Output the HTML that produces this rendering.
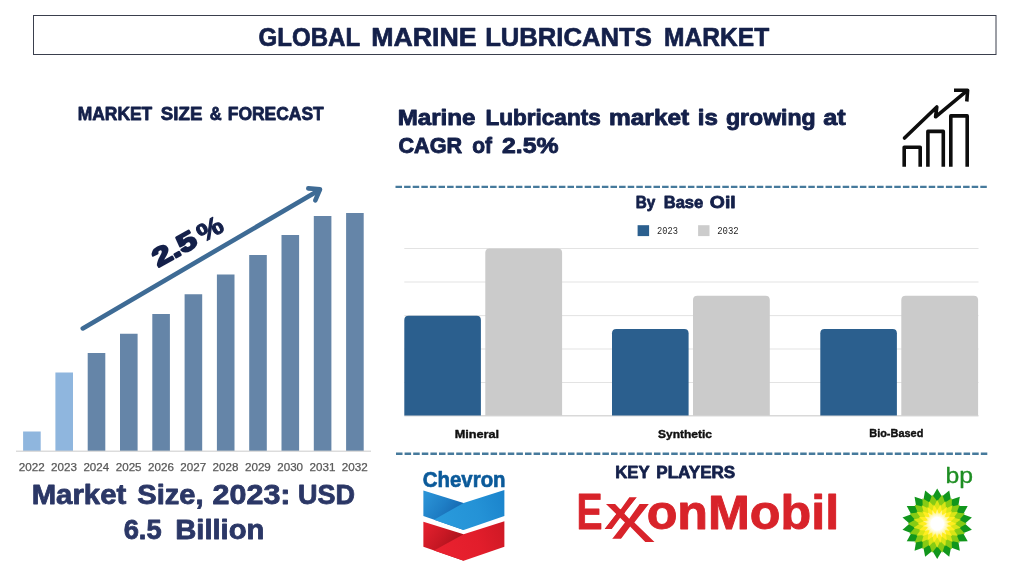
<!DOCTYPE html><html lang="en"><head><meta charset="utf-8"><title>Global Marine Lubricants Market</title>
<style>html,body{margin:0;padding:0;background:#fff}svg{display:block}text{font-family:"Liberation Sans",Arial,sans-serif}.b{font-weight:700}.m{font-family:"Liberation Mono","DejaVu Sans Mono",monospace}</style></head><body>
<svg width="1024" height="576" viewBox="0 0 1024 576">
<rect width="1024" height="576" fill="#ffffff"/>
<rect x="33.5" y="15.5" width="962.5" height="39" fill="#fff" stroke="#3a3f4d" stroke-width="1"/>
<text class="b" y="45.8" font-size="26.1" fill="#14204a" stroke="#14204a" stroke-width="0.7" stroke-linejoin="round"><tspan x="258.57" textLength="101.22" lengthAdjust="spacingAndGlyphs">GLOBAL</tspan> <tspan x="371.16" textLength="105.53" lengthAdjust="spacingAndGlyphs">MARINE</tspan> <tspan x="485.13" textLength="166.72" lengthAdjust="spacingAndGlyphs">LUBRICANTS</tspan> <tspan x="664.11" textLength="105.11" lengthAdjust="spacingAndGlyphs">MARKET</tspan></text>
<text class="b" y="120" font-size="18.8" fill="#14204a" stroke="#14204a" stroke-width="0.8" stroke-linejoin="round"><tspan x="77.73" textLength="74.55" lengthAdjust="spacingAndGlyphs">MARKET</tspan> <tspan x="160.86" textLength="41.47" lengthAdjust="spacingAndGlyphs">SIZE</tspan> <tspan x="209.67" textLength="11.94" lengthAdjust="spacingAndGlyphs">&amp;</tspan> <tspan x="227.73" textLength="96.06" lengthAdjust="spacingAndGlyphs">FORECAST</tspan></text>
<rect x="23.10" y="431.5" width="17.6" height="19.5" fill="#8fb6de"/>
<rect x="55.40" y="372.5" width="17.6" height="78.5" fill="#8fb6de"/>
<rect x="87.70" y="353" width="17.6" height="98" fill="#6585a8"/>
<rect x="120.00" y="333.75" width="17.6" height="117.25" fill="#6585a8"/>
<rect x="152.30" y="314" width="17.6" height="137" fill="#6585a8"/>
<rect x="184.60" y="294.25" width="17.6" height="156.75" fill="#6585a8"/>
<rect x="216.90" y="274.5" width="17.6" height="176.5" fill="#6585a8"/>
<rect x="249.20" y="255" width="17.6" height="196" fill="#6585a8"/>
<rect x="281.50" y="235" width="17.6" height="216" fill="#6585a8"/>
<rect x="313.80" y="216" width="17.6" height="235" fill="#6585a8"/>
<rect x="346.10" y="213" width="17.6" height="238" fill="#6585a8"/>
<rect x="16" y="450.6" width="355" height="1.2" fill="#d4d4d4"/>
<text x="18.84" y="471.3" font-size="10.9" fill="#595959" stroke="#595959" stroke-width="0.25" stroke-linejoin="round" textLength="25.92" lengthAdjust="spacingAndGlyphs">2022</text>
<text x="51.14" y="471.3" font-size="10.9" fill="#595959" stroke="#595959" stroke-width="0.25" stroke-linejoin="round" textLength="25.84" lengthAdjust="spacingAndGlyphs">2023</text>
<text x="83.44" y="471.3" font-size="10.9" fill="#595959" stroke="#595959" stroke-width="0.25" stroke-linejoin="round" textLength="25.67" lengthAdjust="spacingAndGlyphs">2024</text>
<text x="115.74" y="471.3" font-size="10.9" fill="#595959" stroke="#595959" stroke-width="0.25" stroke-linejoin="round" textLength="25.82" lengthAdjust="spacingAndGlyphs">2025</text>
<text x="148.04" y="471.3" font-size="10.9" fill="#595959" stroke="#595959" stroke-width="0.25" stroke-linejoin="round" textLength="25.84" lengthAdjust="spacingAndGlyphs">2026</text>
<text x="180.34" y="471.3" font-size="10.9" fill="#595959" stroke="#595959" stroke-width="0.25" stroke-linejoin="round" textLength="25.92" lengthAdjust="spacingAndGlyphs">2027</text>
<text x="212.64" y="471.3" font-size="10.9" fill="#595959" stroke="#595959" stroke-width="0.25" stroke-linejoin="round" textLength="25.84" lengthAdjust="spacingAndGlyphs">2028</text>
<text x="244.94" y="471.3" font-size="10.9" fill="#595959" stroke="#595959" stroke-width="0.25" stroke-linejoin="round" textLength="25.89" lengthAdjust="spacingAndGlyphs">2029</text>
<text x="277.24" y="471.3" font-size="10.9" fill="#595959" stroke="#595959" stroke-width="0.25" stroke-linejoin="round" textLength="25.79" lengthAdjust="spacingAndGlyphs">2030</text>
<text x="309.54" y="471.3" font-size="10.9" fill="#595959" stroke="#595959" stroke-width="0.25" stroke-linejoin="round" textLength="25.90" lengthAdjust="spacingAndGlyphs">2031</text>
<text x="341.84" y="471.3" font-size="10.9" fill="#595959" stroke="#595959" stroke-width="0.25" stroke-linejoin="round" textLength="25.92" lengthAdjust="spacingAndGlyphs">2032</text>
<g fill="none" stroke="#3e6b95" stroke-width="4.6" stroke-linecap="round" stroke-linejoin="round">
<path d="M82.8 328.4 L319 190.2"/>
<path d="M308.3 188.4 L320 189.3 L315.3 200.4"/>
</g>
<g transform="translate(158.5,267.4) rotate(-29)"><text class="b" x="-0.16" y="0" font-size="25.6" fill="#14204a" stroke="#14204a" stroke-width="2.0" stroke-linejoin="round" textLength="46.39" lengthAdjust="spacingAndGlyphs">2.5</text><text class="b" x="50.57" y="0" font-size="25.6" fill="#14204a" stroke="#14204a" stroke-width="1.0" stroke-linejoin="round" textLength="26.21" lengthAdjust="spacingAndGlyphs">%</text></g>
<text class="b" y="504" font-size="26.8" fill="#2b3766" stroke="#2b3766" stroke-width="0.8" stroke-linejoin="round"><tspan x="31.69" textLength="94.52" lengthAdjust="spacingAndGlyphs">Market</tspan> <tspan x="137.26" textLength="66.28" lengthAdjust="spacingAndGlyphs">Size,</tspan> <tspan x="212.64" textLength="77.88" lengthAdjust="spacingAndGlyphs">2023:</tspan> <tspan x="298.03" textLength="56.95" lengthAdjust="spacingAndGlyphs">USD</tspan></text>
<text class="b" y="539.2" font-size="26.8" fill="#2b3766" stroke="#2b3766" stroke-width="0.8" stroke-linejoin="round"><tspan x="123.65" textLength="37.96" lengthAdjust="spacingAndGlyphs">6.5</tspan> <tspan x="175.20" textLength="89.21" lengthAdjust="spacingAndGlyphs">Billion</tspan></text>
<text class="b" y="125" font-size="21.8" fill="#14204a" stroke="#14204a" stroke-width="0.9" stroke-linejoin="round"><tspan x="397.74" textLength="77.74" lengthAdjust="spacingAndGlyphs">Marine</tspan> <tspan x="485.54" textLength="115.13" lengthAdjust="spacingAndGlyphs">Lubricants</tspan> <tspan x="609.04" textLength="80.21" lengthAdjust="spacingAndGlyphs">market</tspan> <tspan x="697.77" textLength="20.07" lengthAdjust="spacingAndGlyphs">is</tspan> <tspan x="726.00" textLength="89.69" lengthAdjust="spacingAndGlyphs">growing</tspan> <tspan x="823.21" textLength="22.45" lengthAdjust="spacingAndGlyphs">at</tspan></text>
<text class="b" y="153.2" font-size="21.8" fill="#14204a" stroke="#14204a" stroke-width="0.9" stroke-linejoin="round"><tspan x="398.46" textLength="63.73" lengthAdjust="spacingAndGlyphs">CAGR</tspan> <tspan x="472.13" textLength="19.78" lengthAdjust="spacingAndGlyphs">of</tspan> <tspan x="502.09" textLength="56.41" lengthAdjust="spacingAndGlyphs">2.5%</tspan></text>
<g fill="none" stroke="#0d0d0d" stroke-width="3.6" stroke-linejoin="round">
<path d="M904.2 166.8 V147.2 H920.2 V166.8"/>
<path d="M927.9 166.8 V131.4 H943.3 V166.8"/>
<path d="M950.8 166.8 V115.9 H967.2 V166.8"/>
<path d="M904.5 138 L936.8 107 L935.6 116.8 L966.5 91.2" stroke-linecap="round"/>
<path d="M954 90.2 H967.6 L966.8 101.5" stroke-linecap="butt"/>
</g>
<path d="M395.5 186.9 H988" stroke="#467a9c" stroke-width="2.4" stroke-dasharray="6.5 2.1" fill="none"/>
<path d="M396 453.8 H988" stroke="#467a9c" stroke-width="2.4" stroke-dasharray="6.5 2.1" fill="none"/>
<text class="b" y="207.8" font-size="17.2" fill="#14204a" stroke="#14204a" stroke-width="0.8" stroke-linejoin="round"><tspan x="635.63" textLength="19.56" lengthAdjust="spacingAndGlyphs">By</tspan> <tspan x="663.69" textLength="39.57" lengthAdjust="spacingAndGlyphs">Base</tspan> <tspan x="709.80" textLength="25.87" lengthAdjust="spacingAndGlyphs">Oil</tspan></text>
<rect x="637.6" y="225.2" width="11.5" height="10.9" fill="#2b5f8e"/>
<text class="m" x="657" y="234.3" font-size="10.2" fill="#2a2a2a" textLength="20.9" lengthAdjust="spacingAndGlyphs">2023</text>
<rect x="698.1" y="225.2" width="11.4" height="10.9" fill="#cccccc"/>
<text class="m" x="717.2" y="234.3" font-size="10.2" fill="#2a2a2a" textLength="21.5" lengthAdjust="spacingAndGlyphs">2032</text>
<rect x="404.3" y="248.0" width="574.2" height="1" fill="#e3e3e3"/>
<rect x="404.3" y="281.5" width="574.2" height="1" fill="#e3e3e3"/>
<rect x="404.3" y="315.1" width="574.2" height="1" fill="#e3e3e3"/>
<rect x="404.3" y="348.5" width="574.2" height="1" fill="#e3e3e3"/>
<rect x="404.3" y="382.0" width="574.2" height="1" fill="#e3e3e3"/>
<rect x="404.3" y="415.2" width="574.2" height="1.2" fill="#d0d0d0"/>
<path d="M404.3 415.6 V320.0 Q404.3 315.7 408.6 315.7 H476.59999999999997 Q480.9 315.7 480.9 320.0 V415.6 Z" fill="#2b5f8e"/>
<path d="M485.3 415.6 V252.8 Q485.3 248.5 489.6 248.5 H557.8000000000001 Q562.1 248.5 562.1 252.8 V415.6 Z" fill="#cbcbcb"/>
<path d="M612 415.6 V333.3 Q612 329 616.3 329 H684.3000000000001 Q688.6 329 688.6 333.3 V415.6 Z" fill="#2b5f8e"/>
<path d="M693 415.6 V300.0 Q693 295.7 697.3 295.7 H765.5 Q769.8 295.7 769.8 300.0 V415.6 Z" fill="#cbcbcb"/>
<path d="M820.3 415.6 V333.3 Q820.3 329 824.5999999999999 329 H892.6 Q896.9 329 896.9 333.3 V415.6 Z" fill="#2b5f8e"/>
<path d="M901.3 415.6 V300.0 Q901.3 295.7 905.5999999999999 295.7 H973.8 Q978.0999999999999 295.7 978.0999999999999 300.0 V415.6 Z" fill="#cbcbcb"/>
<text class="b" x="454.65" y="437.9" font-size="11.4" fill="#111" stroke="#111" stroke-width="0.4" stroke-linejoin="round" textLength="44.45" lengthAdjust="spacingAndGlyphs">Mineral</text>
<text class="b" x="658.05" y="438.3" font-size="11.4" fill="#111" stroke="#111" stroke-width="0.4" stroke-linejoin="round" textLength="54.00" lengthAdjust="spacingAndGlyphs">Synthetic</text>
<text class="b" x="869.27" y="437.2" font-size="11.4" fill="#111" stroke="#111" stroke-width="0.4" stroke-linejoin="round" textLength="54.05" lengthAdjust="spacingAndGlyphs">Bio-Based</text>
<text class="b" y="477.5" font-size="17.4" fill="#14204a" stroke="#14204a" stroke-width="0.8" stroke-linejoin="round"><tspan x="615.29" textLength="34.08" lengthAdjust="spacingAndGlyphs">KEY</tspan> <tspan x="656.28" textLength="78.97" lengthAdjust="spacingAndGlyphs">PLAYERS</tspan></text>
<defs>
<linearGradient id="gb" gradientUnits="userSpaceOnUse" x1="426" y1="494" x2="462" y2="520"><stop offset="0" stop-color="#2b93d6"/><stop offset="0.45" stop-color="#1f7fc6"/><stop offset="1" stop-color="#135fa8"/></linearGradient>
<linearGradient id="gb2" gradientUnits="userSpaceOnUse" x1="436" y1="522" x2="504" y2="496"><stop offset="0" stop-color="#2a9bdc"/><stop offset="0.6" stop-color="#2492d6"/><stop offset="1" stop-color="#1b84cc"/></linearGradient>
<linearGradient id="gr" gradientUnits="userSpaceOnUse" x1="426" y1="525" x2="462" y2="551"><stop offset="0" stop-color="#e2202d"/><stop offset="0.45" stop-color="#c81824"/><stop offset="1" stop-color="#9c0f18"/></linearGradient>
<linearGradient id="gr2" gradientUnits="userSpaceOnUse" x1="436" y1="553" x2="504" y2="527"><stop offset="0" stop-color="#ea2230"/><stop offset="0.6" stop-color="#e21d2b"/><stop offset="1" stop-color="#cf1925"/></linearGradient>
<radialGradient id="gw" cx="0.5" cy="0.5" r="0.5"><stop offset="0" stop-color="#fff"/><stop offset="0.55" stop-color="#fff"/><stop offset="1" stop-color="#fff" stop-opacity="0"/></radialGradient>
</defs>
<text class="b" x="422.81" y="486.5" font-size="22.4" fill="#0b5a9a" stroke="#0b5a9a" stroke-width="0.7" stroke-linejoin="round" textLength="82.80" lengthAdjust="spacingAndGlyphs">Chevron</text>
<path d="M423.4 490.6 L463.6 502.9 L463.7 529.9 L423.4 516.1 Z" fill="url(#gb)"/>
<path d="M504.4 489.9 V516 L463.7 529.9 L434 519.7 L463.6 502.9 Z" fill="url(#gb2)"/>
<path d="M423.4 521.8 L463.6 534.2 L463.7 560.8 L423.4 546.8 Z" fill="url(#gr)"/>
<path d="M504.4 521.2 V546.7 L463.7 560.8 L434 550.5 L463.6 534.2 Z" fill="url(#gr2)"/>
<text class="b" x="576.39" y="529" font-size="49.6" fill="#d8232a" stroke="#d8232a" stroke-width="0.8" stroke-linejoin="round" textLength="26.04" lengthAdjust="spacingAndGlyphs">E</text>
<clipPath id="cA"><polygon points="603.9,529.4 612.1,529.4 637.1,497.1 628.9,497.1"/></clipPath>
<g clip-path="url(#cA)"><text transform="matrix(1.3,0,0.122,1,603.4,529.1)" x="0" y="0" font-size="60.2" fill="#d8232a">x</text></g>
<clipPath id="cB"><polygon points="600,495 662,495 662,546 631,546 631,538.7 600,538.7"/></clipPath>
<g clip-path="url(#cB)"><text transform="matrix(1.3,0,0.122,1,608.7,542.1)" x="0" y="0" font-size="71.9" fill="#d8232a">x</text></g>
<text class="b" x="646.69" y="529" font-size="47.2" fill="#d8232a" stroke="#d8232a" stroke-width="0.9" stroke-linejoin="round" textLength="192.42" lengthAdjust="spacingAndGlyphs">onMobil</text>
<g fill="#11961c"><polygon points="937.20,488.50 942.07,496.63 937.20,511.70 932.33,496.63"/><polygon points="949.24,490.62 951.03,499.93 941.30,512.42 941.88,496.60"/><polygon points="959.83,496.74 958.33,506.10 944.91,514.51 950.87,499.84"/><polygon points="967.68,506.10 963.07,514.38 947.59,517.70 958.20,505.95"/><polygon points="971.87,517.59 964.70,523.80 949.02,521.62 963.01,514.20"/><polygon points="971.87,529.81 963.01,533.20 949.02,525.78 964.70,523.60"/><polygon points="967.68,541.30 958.20,541.45 947.59,529.70 963.07,533.02"/><polygon points="959.83,550.66 950.87,547.56 944.91,532.89 958.33,541.30"/><polygon points="949.24,556.78 941.88,550.80 941.30,534.98 951.03,547.47"/><polygon points="937.20,558.90 932.33,550.77 937.20,535.70 942.07,550.77"/><polygon points="925.16,556.78 923.37,547.47 933.10,534.98 932.52,550.80"/><polygon points="914.57,550.66 916.07,541.30 929.49,532.89 923.53,547.56"/><polygon points="906.72,541.30 911.33,533.02 926.81,529.70 916.20,541.45"/><polygon points="902.53,529.81 909.70,523.60 925.38,525.78 911.39,533.20"/><polygon points="902.53,517.59 911.39,514.20 925.38,521.62 909.70,523.80"/><polygon points="906.72,506.10 916.20,505.95 926.81,517.70 911.33,514.38"/><polygon points="914.57,496.74 923.53,499.84 929.49,514.51 916.07,506.10"/><polygon points="925.16,490.62 932.52,496.60 933.10,512.42 923.37,499.93"/></g>
<g fill="#86cb14"><polygon points="942.32,494.65 944.97,502.58 938.94,513.85 937.12,501.20"/><polygon points="951.95,498.15 951.72,506.51 942.20,515.04 944.82,502.53"/><polygon points="959.80,504.74 956.72,512.52 944.86,517.27 951.60,506.41"/><polygon points="964.92,513.61 959.37,519.87 946.60,520.28 956.65,512.38"/><polygon points="966.70,523.70 959.34,527.68 947.20,523.70 959.34,519.72"/><polygon points="964.92,533.79 956.65,535.02 946.60,527.12 959.37,527.53"/><polygon points="959.80,542.66 951.60,540.99 944.86,530.13 956.72,534.88"/><polygon points="951.95,549.25 944.82,544.87 942.20,532.36 951.72,540.89"/><polygon points="942.32,552.75 937.12,546.20 938.94,533.55 944.97,544.82"/><polygon points="932.08,552.75 929.43,544.82 935.46,533.55 937.28,546.20"/><polygon points="922.45,549.25 922.68,540.89 932.20,532.36 929.58,544.87"/><polygon points="914.60,542.66 917.68,534.88 929.54,530.13 922.80,540.99"/><polygon points="909.48,533.79 915.03,527.53 927.80,527.12 917.75,535.02"/><polygon points="907.70,523.70 915.06,519.72 927.20,523.70 915.06,527.68"/><polygon points="909.48,513.61 917.75,512.38 927.80,520.28 915.03,519.87"/><polygon points="914.60,504.74 922.80,506.41 929.54,517.27 917.68,512.52"/><polygon points="922.45,498.15 929.58,502.53 932.20,515.04 922.68,506.51"/><polygon points="932.08,494.65 937.28,501.20 935.46,513.85 929.43,502.58"/></g>
<g fill="#d9e516"><polygon points="937.20,499.70 940.30,506.48 937.20,517.70 934.10,506.48"/><polygon points="945.41,501.15 946.00,508.58 939.25,518.06 940.18,506.46"/><polygon points="952.63,505.31 950.64,512.50 941.06,519.10 945.90,508.51"/><polygon points="957.98,511.70 953.67,517.77 942.40,520.70 950.57,512.40"/><polygon points="960.84,519.53 954.70,523.76 943.11,522.66 953.62,517.66"/><polygon points="960.84,527.87 953.62,529.74 943.11,524.74 954.70,523.64"/><polygon points="957.98,535.70 950.57,535.00 942.40,526.70 953.67,529.63"/><polygon points="952.63,542.09 945.90,538.89 941.06,528.30 950.64,534.90"/><polygon points="945.41,546.25 940.18,540.94 939.25,529.34 946.00,538.82"/><polygon points="937.20,547.70 934.10,540.92 937.20,529.70 940.30,540.92"/><polygon points="928.99,546.25 928.40,538.82 935.15,529.34 934.22,540.94"/><polygon points="921.77,542.09 923.76,534.90 933.34,528.30 928.50,538.89"/><polygon points="916.42,535.70 920.73,529.63 932.00,526.70 923.83,535.00"/><polygon points="913.56,527.87 919.70,523.64 931.29,524.74 920.78,529.74"/><polygon points="913.56,519.53 920.78,517.66 931.29,522.66 919.70,523.76"/><polygon points="916.42,511.70 923.83,512.40 932.00,520.70 920.73,517.77"/><polygon points="921.77,505.31 928.50,508.51 933.34,519.10 923.76,512.50"/><polygon points="928.99,501.15 934.22,506.46 935.15,518.06 928.40,508.58"/></g>
<g fill="#ffee1f"><polygon points="940.59,504.50 941.86,511.03 937.89,519.76 937.15,510.20"/><polygon points="946.95,506.81 945.91,513.39 939.20,520.24 941.77,511.00"/><polygon points="952.14,511.17 948.91,516.99 940.26,521.13 945.84,513.33"/><polygon points="955.52,517.03 950.50,521.40 940.96,522.33 948.87,516.91"/><polygon points="956.70,523.70 950.49,526.09 941.20,523.70 950.49,521.31"/><polygon points="955.52,530.37 948.87,530.49 940.96,525.07 950.50,526.00"/><polygon points="952.14,536.23 945.84,534.07 940.26,526.27 948.91,530.41"/><polygon points="946.95,540.59 941.77,536.40 939.20,527.16 945.91,534.01"/><polygon points="940.59,542.90 937.15,537.20 937.89,527.64 941.86,536.37"/><polygon points="933.81,542.90 932.54,536.37 936.51,527.64 937.25,537.20"/><polygon points="927.45,540.59 928.49,534.01 935.20,527.16 932.63,536.40"/><polygon points="922.26,536.23 925.49,530.41 934.14,526.27 928.56,534.07"/><polygon points="918.88,530.37 923.90,526.00 933.44,525.07 925.53,530.49"/><polygon points="917.70,523.70 923.91,521.31 933.20,523.70 923.91,526.09"/><polygon points="918.88,517.03 925.53,516.91 933.44,522.33 923.90,521.40"/><polygon points="922.26,511.17 928.56,513.33 934.14,521.13 925.49,516.99"/><polygon points="927.45,506.81 932.63,511.00 935.20,520.24 928.49,513.39"/><polygon points="933.81,504.50 937.25,510.20 936.51,519.76 932.54,511.03"/></g>
<g fill="#fff68a"><polygon points="937.20,509.20 938.88,514.35 937.20,523.70 935.52,514.35"/><polygon points="942.16,510.07 941.98,515.49 937.20,523.70 938.82,514.34"/><polygon points="946.52,512.59 944.50,517.62 937.20,523.70 941.92,515.46"/><polygon points="949.76,516.45 946.14,520.48 937.20,523.70 944.46,517.57"/><polygon points="951.48,521.18 946.70,523.73 937.20,523.70 946.12,520.42"/><polygon points="951.48,526.22 946.12,526.98 937.20,523.70 946.70,523.67"/><polygon points="949.76,530.95 944.46,529.83 937.20,523.70 946.14,526.92"/><polygon points="946.52,534.81 941.92,531.94 937.20,523.70 944.50,529.78"/><polygon points="942.16,537.33 938.82,533.06 937.20,523.70 941.98,531.91"/><polygon points="937.20,538.20 935.52,533.05 937.20,523.70 938.88,533.05"/><polygon points="932.24,537.33 932.42,531.91 937.20,523.70 935.58,533.06"/><polygon points="927.88,534.81 929.90,529.78 937.20,523.70 932.48,531.94"/><polygon points="924.64,530.95 928.26,526.92 937.20,523.70 929.94,529.83"/><polygon points="922.92,526.22 927.70,523.67 937.20,523.70 928.28,526.98"/><polygon points="922.92,521.18 928.28,520.42 937.20,523.70 927.70,523.73"/><polygon points="924.64,516.45 929.94,517.57 937.20,523.70 928.26,520.48"/><polygon points="927.88,512.59 932.48,515.46 937.20,523.70 929.90,517.62"/><polygon points="932.24,510.07 935.58,514.34 937.20,523.70 932.42,515.49"/></g>
<circle cx="937.2" cy="523.7" r="11.5" fill="url(#gw)"/>
<text x="945.45" y="482.8" font-size="21.6" fill="#1e8e23" stroke="#1e8e23" stroke-width="0.3" stroke-linejoin="round" textLength="27.54" lengthAdjust="spacingAndGlyphs">bp</text>
</svg></body></html>
